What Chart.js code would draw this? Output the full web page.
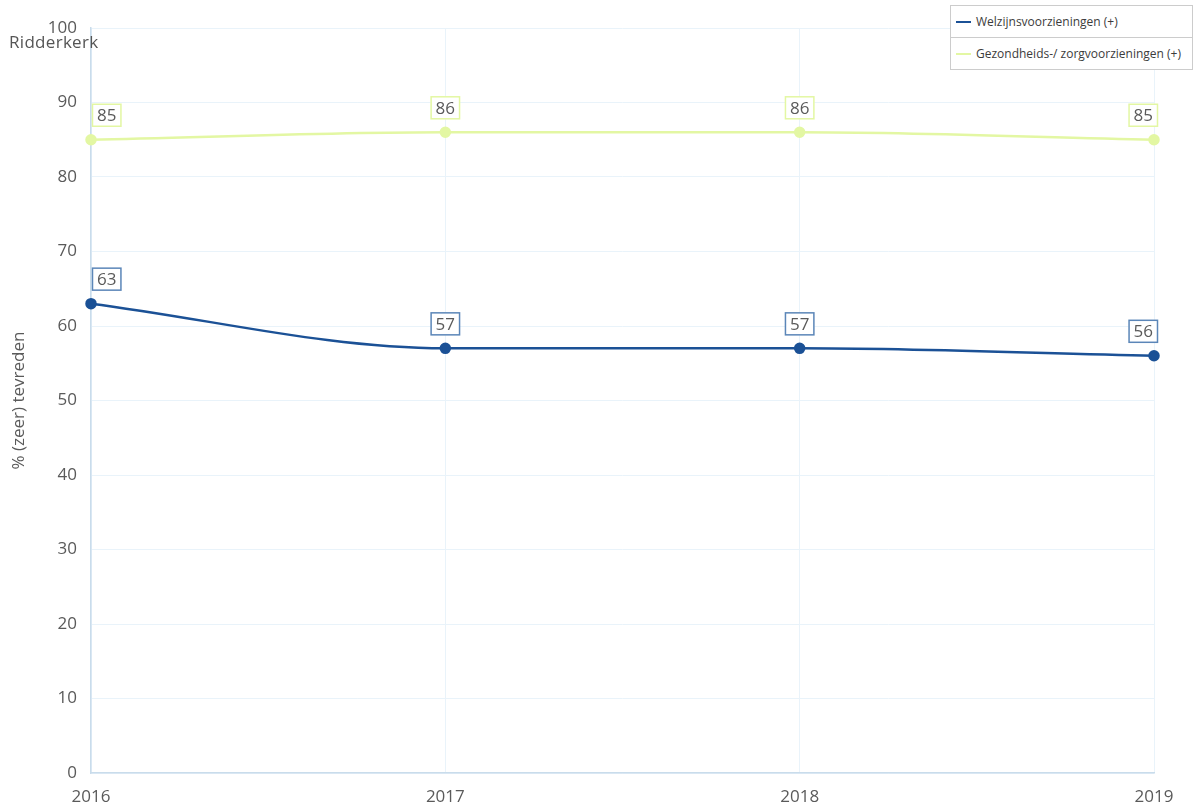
<!DOCTYPE html>
<html>
<head>
<meta charset="utf-8">
<script src="https://cdn.jsdelivr.net/npm/chart.js@4"></script>
<style>
  html, body { margin: 0; padding: 0; background: #fff; }
  #wrap { position: relative; width: 1193px; height: 805px; }
  canvas { position: absolute; left: 0; top: 0; }
  .title { position: absolute; left: 9px; top: 30px; font: 17px "Open Sans", sans-serif; color: #555; letter-spacing: 0.3px; }
  .legend { position: absolute; left: 950px; top: 5px; width: 241px; border: 1px solid #ccc; background: #fff;
            font: 12px "Open Sans", sans-serif; color: #3c3c3c; }
  .legend .row { height: 31px; display: flex; align-items: center; padding-left: 5px; }
  .legend .row + .row { border-top: 1px solid #ccc; }
  .legend .sw { width: 15px; height: 2px; margin-right: 5px; }
</style>
</head>
<body>
<div id="wrap">
  <canvas id="c" width="1193" height="805"></canvas>
  <div class="title">Ridderkerk</div>
  <div class="legend" id="legend"></div>
</div>
<script>
const years = ['2016', '2017', '2018', '2019'];
const welzijn = [63, 57, 57, 56];
const gezondheid = [85, 86, 86, 85];
const seriesNames = ['Welzijnsvoorzieningen (+)', 'Gezondheids-/ zorgvoorzieningen (+)'];
const seriesColors = ['#1b5196', '#e3f7a3'];
const boxColors = ['#5b86b8', '#e3f7a3'];
const yTicks = [0, 10, 20, 30, 40, 50, 60, 70, 80, 90, 100];

const FONT = '"Open Sans", sans-serif';
const TEXT = '#5a5a5a';

// legend (HTML)
const lg = document.getElementById('legend');
seriesNames.forEach((n, i) => {
  const r = document.createElement('div');
  r.className = 'row';
  r.innerHTML = '<span class="sw" style="background:' + seriesColors[i] + '"></span><span>' + n + '</span>';
  lg.appendChild(r);
});

// boxed value labels above each point, kept inside the plot area
const valueBoxes = {
  id: 'valueBoxes',
  afterDatasetsDraw(chart) {
    const ctx = chart.ctx;
    const area = chart.chartArea;
    ctx.save();
    ctx.font = '17px ' + FONT;
    ctx.textBaseline = 'middle';
    ctx.textAlign = 'center';
    chart.data.datasets.forEach((ds, di) => {
      const meta = chart.getDatasetMeta(di);
      meta.data.forEach((pt, i) => {
        const txt = String(ds.data[i]);
        const w = ctx.measureText(txt).width + 10;
        const h = 23;
        let x = pt.x - w / 2;
        if (x < area.left + 1) x = area.left + 1;
        if (x + w > area.right + 4) x = area.right + 4 - w;
        const y = pt.y - 13 - h;
        ctx.fillStyle = '#fff';
        ctx.fillRect(x, y, w, h);
        ctx.strokeStyle = boxColors[di];
        ctx.lineWidth = 1.5;
        ctx.strokeRect(x + 0.5, y + 0.5, w - 1, h - 1);
        ctx.fillStyle = TEXT;
        ctx.fillText(txt, x + w / 2, y + h / 2 + 1);
      });
    });
    ctx.restore();
  }
};

new Chart(document.getElementById('c'), {
  type: 'line',
  data: {
    labels: years,
    datasets: [
      {
        label: seriesNames[0], data: welzijn,
        borderColor: seriesColors[0], backgroundColor: seriesColors[0],
        borderWidth: 2.5, pointRadius: 4.5, pointHoverRadius: 4.5,
        cubicInterpolationMode: 'monotone'
      },
      {
        label: seriesNames[1], data: gezondheid,
        borderColor: seriesColors[1], backgroundColor: seriesColors[1],
        borderWidth: 2.5, pointRadius: 4.5, pointHoverRadius: 4.5,
        cubicInterpolationMode: 'monotone'
      }
    ]
  },
  options: {
    responsive: false,
    animation: false,
    events: [],
    layout: { padding: { left: 0, right: 39, top: 28, bottom: 0 } },
    plugins: { legend: { display: false }, tooltip: { enabled: false } },
    scales: {
      x: {
        offset: false,
        grid: { color: '#e9f3fa', lineWidth: 1, drawTicks: false },
        border: { color: '#c9dceb', width: 1.5 },
        ticks: { color: TEXT, font: { family: FONT, size: 17 }, padding: 14, maxRotation: 0,
                 align: 'center' },
        afterFit(s) { s.height = 32; }
      },
      y: {
        min: 0, max: 100,
        afterBuildTicks(s) { s.ticks = yTicks.map(v => ({ value: v })); },
        grid: { color: '#e9f3fa', lineWidth: 1, drawTicks: false },
        border: { color: '#c9dceb', width: 1.5 },
        ticks: { color: TEXT, font: { family: FONT, size: 17 }, padding: 14 },
        title: { display: true, text: '% (zeer) tevreden', color: TEXT,
                 font: { family: FONT, size: 17 }, padding: { top: 9, bottom: 0 } },
        afterFit(s) { s.width = 91; }
      }
    }
  },
  plugins: [valueBoxes]
});
</script>
</body>
</html>
